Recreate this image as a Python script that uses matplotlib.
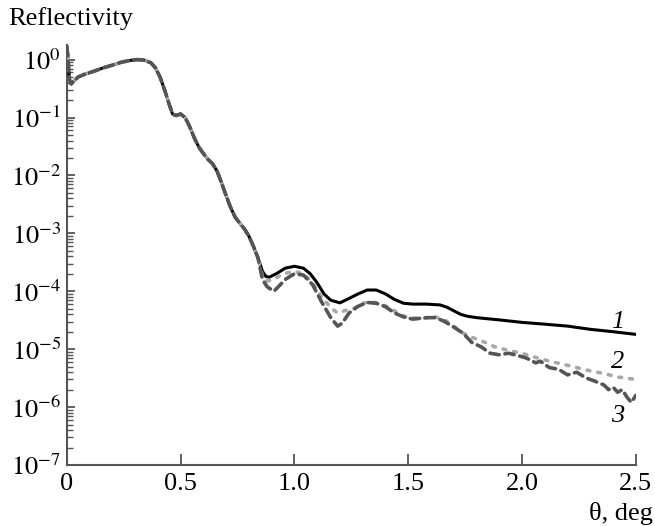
import matplotlib
matplotlib.use("Agg")
import matplotlib.pyplot as plt
from matplotlib.ticker import LogLocator, NullFormatter, FixedLocator

plt.rcParams['font.family'] = ['Liberation Serif', 'DejaVu Serif']
plt.rcParams['mathtext.fontset'] = 'stix'

# shared low-angle part (all three curves coincide)
theta_common = [0.000, 0.005, 0.012, 0.02, 0.03, 0.05, 0.08, 0.12, 0.16, 0.20, 0.24, 0.28,
                0.31, 0.34, 0.37, 0.39, 0.41, 0.43, 0.45, 0.465, 0.48, 0.50, 0.52, 0.54,
                0.56, 0.58, 0.60, 0.62, 0.64, 0.66, 0.68, 0.70, 0.72, 0.74, 0.76, 0.78,
                0.80, 0.82, 0.84]
refl_common = [1.7, 1.2, 0.45, 0.38, 0.42, 0.50, 0.56, 0.63, 0.72, 0.80, 0.90, 0.97,
               1.0, 0.98, 0.88, 0.72, 0.50, 0.30, 0.17, 0.115, 0.108, 0.115, 0.10, 0.07,
               0.045, 0.031, 0.024, 0.019, 0.016, 0.012, 0.0075, 0.0045, 0.0028, 0.0019,
               0.0015, 0.0012, 0.0009, 0.0006, 0.00038]

# curve 1 tail
theta1 = [0.86, 0.875, 0.89, 0.92, 0.96, 1.00, 1.04, 1.07, 1.10, 1.13, 1.16, 1.20, 1.24,
          1.28, 1.32, 1.36, 1.40, 1.44, 1.48, 1.52, 1.58, 1.64, 1.67, 1.70, 1.73, 1.76,
          1.80, 1.90, 2.00, 2.10, 2.20, 2.30, 2.40, 2.50]
refl1 = [2.2e-4, 1.8e-4, 1.75e-4, 2.0e-4, 2.5e-4, 2.7e-4, 2.5e-4, 2.0e-4, 1.4e-4, 9.0e-5,
         7.0e-5, 6.3e-5, 7.5e-5, 9.0e-5, 1.05e-4, 1.05e-4, 9.0e-5, 7.2e-5, 6.2e-5, 6.0e-5,
         6.0e-5, 5.8e-5, 5.3e-5, 4.6e-5, 4.0e-5, 3.7e-5, 3.5e-5, 3.2e-5, 2.9e-5, 2.7e-5,
         2.5e-5, 2.2e-5, 2.0e-5, 1.8e-5]

# curve 2 tail
theta2 = [0.86, 0.88, 0.91, 0.95, 1.00, 1.04, 1.08, 1.12, 1.16, 1.19, 1.22, 1.26, 1.30,
          1.34, 1.38, 1.42, 1.46, 1.50, 1.56, 1.62, 1.66, 1.70, 1.74, 1.78, 1.82, 1.88,
          1.94, 2.00, 2.06, 2.12, 2.18, 2.24, 2.30, 2.36, 2.42, 2.50]
refl2 = [1.8e-4, 1.5e-4, 1.6e-4, 2.0e-4, 2.2e-4, 2.0e-4, 1.4e-4, 8.0e-5, 5.2e-5, 4.2e-5,
         4.6e-5, 5.0e-5, 6.2e-5, 6.6e-5, 6.0e-5, 5.2e-5, 4.0e-5, 3.5e-5, 3.4e-5, 3.6e-5,
         3.2e-5, 2.5e-5, 1.9e-5, 1.6e-5, 1.4e-5, 1.1e-5, 9.5e-6, 8.5e-6, 7.2e-6, 6.2e-6,
         5.5e-6, 4.8e-6, 4.2e-6, 3.8e-6, 3.3e-6, 3.0e-6]

# curve 3 tail
theta3 = [0.86, 0.88, 0.91, 0.93, 0.96, 1.00, 1.04, 1.08, 1.12, 1.16, 1.19, 1.21, 1.24,
          1.28, 1.32, 1.36, 1.40, 1.44, 1.48, 1.52, 1.58, 1.62, 1.66, 1.70, 1.74, 1.78,
          1.82, 1.86, 1.90, 1.94, 1.98, 2.02, 2.06, 2.08, 2.12, 2.16, 2.20, 2.24, 2.28,
          2.32, 2.36, 2.38, 2.40, 2.42, 2.44, 2.46, 2.48, 2.50]
refl3 = [1.6e-4, 1.2e-4, 1.0e-4, 1.2e-4, 1.6e-4, 2.0e-4, 1.9e-4, 1.3e-4, 6.5e-5, 3.5e-5,
         2.5e-5, 2.8e-5, 4.2e-5, 5.5e-5, 6.4e-5, 6.2e-5, 5.4e-5, 4.2e-5, 3.6e-5, 3.3e-5,
         3.5e-5, 3.5e-5, 3.0e-5, 2.4e-5, 1.9e-5, 1.3e-5, 1.1e-5, 8.5e-6, 8.0e-6, 8.5e-6,
         7.8e-6, 7.0e-6, 5.8e-6, 6.2e-6, 4.8e-6, 4.5e-6, 3.6e-6, 4.0e-6, 3.2e-6, 2.8e-6,
         2.4e-6, 2.0e-6, 2.2e-6, 1.8e-6, 2.0e-6, 1.5e-6, 1.2e-6, 1.6e-6]

curve_labels = ['1', '2', '3']
xticks = [0, 0.5, 1.0, 1.5, 2.0, 2.5]
xticklabels = ['0', '0.5', '1.0', '1.5', '2.0', '2.5']
yticks = [1e0, 1e-1, 1e-2, 1e-3, 1e-4, 1e-5, 1e-6, 1e-7]
yticklabels = [r'$10^{0}$', r'$10^{-1}$', r'$10^{-2}$', r'$10^{-3}$', r'$10^{-4}$',
               r'$10^{-5}$', r'$10^{-6}$', r'$10^{-7}$']

fig = plt.figure(figsize=(6.55, 5.26), dpi=100)
ax = fig.add_axes([0.1018, 0.116, 0.869, 0.798])

x1 = theta_common + theta1
y1 = refl_common + refl1
x2 = theta_common + theta2
y2 = refl_common + refl2
x3 = theta_common + theta3
y3 = refl_common + refl3

ax.plot(x1, y1, color='black', lw=2.2, solid_joinstyle='round', zorder=3)
ax.plot(x2, y2, color='#a8a8a8', lw=2.6, linestyle=(0, (0.8, 2.2)),
        dash_capstyle='round', zorder=4)
ax.plot(x3, y3, color='#555555', lw=2.6, linestyle=(0, (2.6, 1.6)),
        dash_capstyle='round', zorder=5)

ax.set_yscale('log')
ax.set_xlim(0, 2.5)
ax.set_ylim(1e-7, 1.77)

ax.xaxis.set_major_locator(FixedLocator(xticks))
ax.set_xticklabels(xticklabels)
ax.set_yticks(yticks)
ax.set_yticklabels(yticklabels)
ax.yaxis.set_minor_locator(LogLocator(base=10, subs=range(2, 10), numticks=20))
ax.yaxis.set_minor_formatter(NullFormatter())

for s in ['top', 'right']:
    ax.spines[s].set_visible(False)
for s in ['left', 'bottom']:
    ax.spines[s].set_color('#555555')
    ax.spines[s].set_linewidth(1.5)

ax.tick_params(axis='x', which='major', direction='in', length=8, width=1.3,
               color='#555555', labelsize=19, pad=6)
ax.tick_params(axis='y', which='major', direction='in', length=6, width=1.3,
               color='#555555', labelsize=19, pad=4)
ax.tick_params(axis='y', which='minor', direction='in', length=4, width=1.0,
               color='#555555')

label_pos = [(2.42, 3.0e-5), (2.42, 6.0e-6), (2.42, 7.0e-7)]
for lab, (lx, ly) in zip(curve_labels, label_pos):
    ax.text(lx, ly, lab, fontsize=19, style='italic', ha='center', va='center',
            zorder=6)

fig.text(0.012, 0.965, 'Reflectivity', fontsize=19, ha='left', va='center')
fig.text(0.997, 0.002, 'θ, deg', fontsize=19, ha='right', va='bottom')

fig.savefig('out.png', dpi=100)
